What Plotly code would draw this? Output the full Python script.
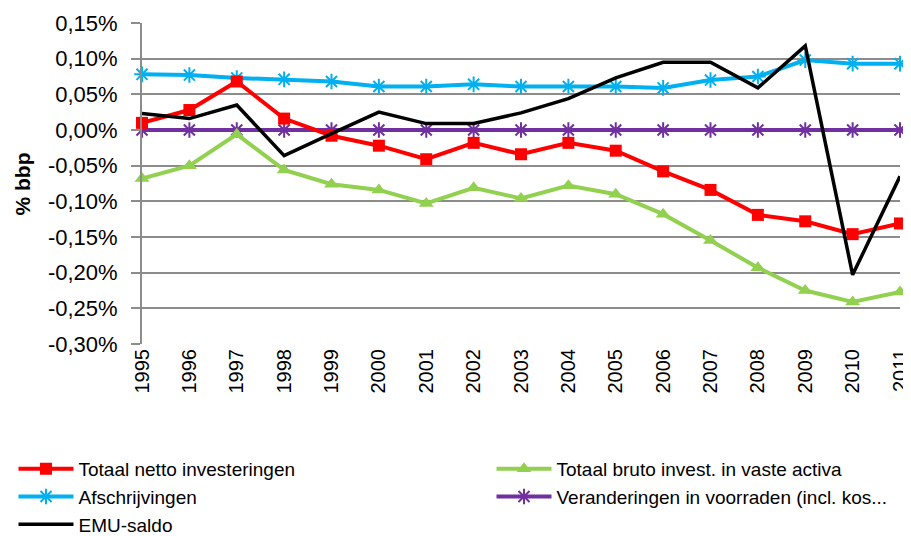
import plotly.graph_objects as go

years = list(range(1995, 2012))
netto = [0.010, 0.028, 0.068, 0.016, -0.008, -0.022, -0.041, -0.018, -0.034, -0.018, -0.029, -0.058, -0.084, -0.119, -0.128, -0.146, -0.131]
bruto = [-0.068, -0.050, -0.006, -0.056, -0.076, -0.084, -0.103, -0.081, -0.096, -0.078, -0.090, -0.118, -0.155, -0.193, -0.225, -0.241, -0.227]
afschr = [0.078, 0.077, 0.073, 0.071, 0.068, 0.061, 0.061, 0.064, 0.061, 0.061, 0.061, 0.059, 0.070, 0.075, 0.098, 0.093, 0.093]
voorraden = [0.0] * 17
emu = [0.023, 0.016, 0.035, -0.036, -0.005, 0.025, 0.009, 0.009, 0.024, 0.044, 0.073, 0.095, 0.095, 0.059, 0.118, -0.203, -0.065]

ytickvals = [0.15, 0.10, 0.05, 0.0, -0.05, -0.10, -0.15, -0.20, -0.25, -0.30]
yticktext = ["0,15%", "0,10%", "0,05%", "0,00%", "-0,05%", "-0,10%", "-0,15%", "-0,20%", "-0,25%", "-0,30%"]
ytitle = "% bbp"

names = ["Totaal netto investeringen", "Totaal bruto invest. in vaste activa", "Afschrijvingen",
         "Veranderingen in voorraden (incl. kos...", "EMU-saldo"]

fig = go.Figure()
fig.add_trace(go.Scatter(x=years, y=voorraden, name=names[3], mode="lines+markers", legend="legend2", legendrank=2,
                         line=dict(color="#7030A0", width=4),
                         marker=dict(symbol="asterisk-open", size=13, color="#7030A0", line=dict(width=2, color="#7030A0")), cliponaxis=False))
fig.add_trace(go.Scatter(x=years, y=afschr, name=names[2], mode="lines+markers", legend="legend", legendrank=2,
                         line=dict(color="#00B0F0", width=4),
                         marker=dict(symbol="asterisk-open", size=13, color="#00B0F0", line=dict(width=2, color="#00B0F0")), cliponaxis=False))
fig.add_trace(go.Scatter(x=years, y=bruto, name=names[1], mode="lines+markers", legend="legend2", legendrank=1,
                         line=dict(color="#92D050", width=4),
                         marker=dict(symbol="triangle-up", size=13, color="#92D050"), cliponaxis=False))
fig.add_trace(go.Scatter(x=years, y=netto, name=names[0], mode="lines+markers", legend="legend", legendrank=1,
                         line=dict(color="#FF0000", width=4),
                         marker=dict(symbol="square", size=12, color="#FF0000"), cliponaxis=False))
fig.add_trace(go.Scatter(x=years, y=emu, name=names[4], mode="lines", legend="legend", legendrank=3,
                         line=dict(color="#000000", width=3.5), cliponaxis=False))

# page body has an 8px margin: figure is sized and shifted to compensate
W, H = 903, 528
L, R, T, B = 134, 11, 15, 192
legend_common = dict(orientation="v", xref="container", yref="container", xanchor="left",
                     y=1 - 442 / H, yanchor="top", traceorder="normal",
                     font=dict(size=19), itemwidth=55, tracegroupgap=0, bgcolor="rgba(0,0,0,0)")

fig.update_layout(
    width=W, height=H,
    margin=dict(l=L, r=R, t=T, b=B, autoexpand=False),
    plot_bgcolor="white", paper_bgcolor="white",
    font=dict(family="Liberation Sans, Arial, sans-serif", color="#000000"),
    showlegend=True,
    legend=dict(x=5.5 / W, **legend_common),
    legend2=dict(x=483.5 / W, **legend_common),
    annotations=[dict(text="<b>" + ytitle + "</b>", textangle=-90, showarrow=False,
                      xref="paper", yref="paper", x=(14 - L) / (W - L - R), y=0.5,
                      xanchor="center", yanchor="middle", font=dict(size=21))],
)
fig.update_xaxes(range=[1995, 2011], tickmode="array", tickvals=years, ticktext=[str(y) for y in years],
                 tickangle=-90, tickfont=dict(size=20), showgrid=False, zeroline=False,
                 showline=False, ticks="")
fig.update_yaxes(range=[-0.30, 0.15], tickmode="array", tickvals=ytickvals, ticktext=yticktext,
                 tickfont=dict(size=22), showgrid=True, gridcolor="#8C8C8C", gridwidth=2,
                 zeroline=False, showline=True, linecolor="#8C8C8C", linewidth=2,
                 ticks="outside", ticklen=9, tickcolor="#8C8C8C", tickwidth=2,
                 ticklabelstandoff=9)

fig.write_html("out.html")
